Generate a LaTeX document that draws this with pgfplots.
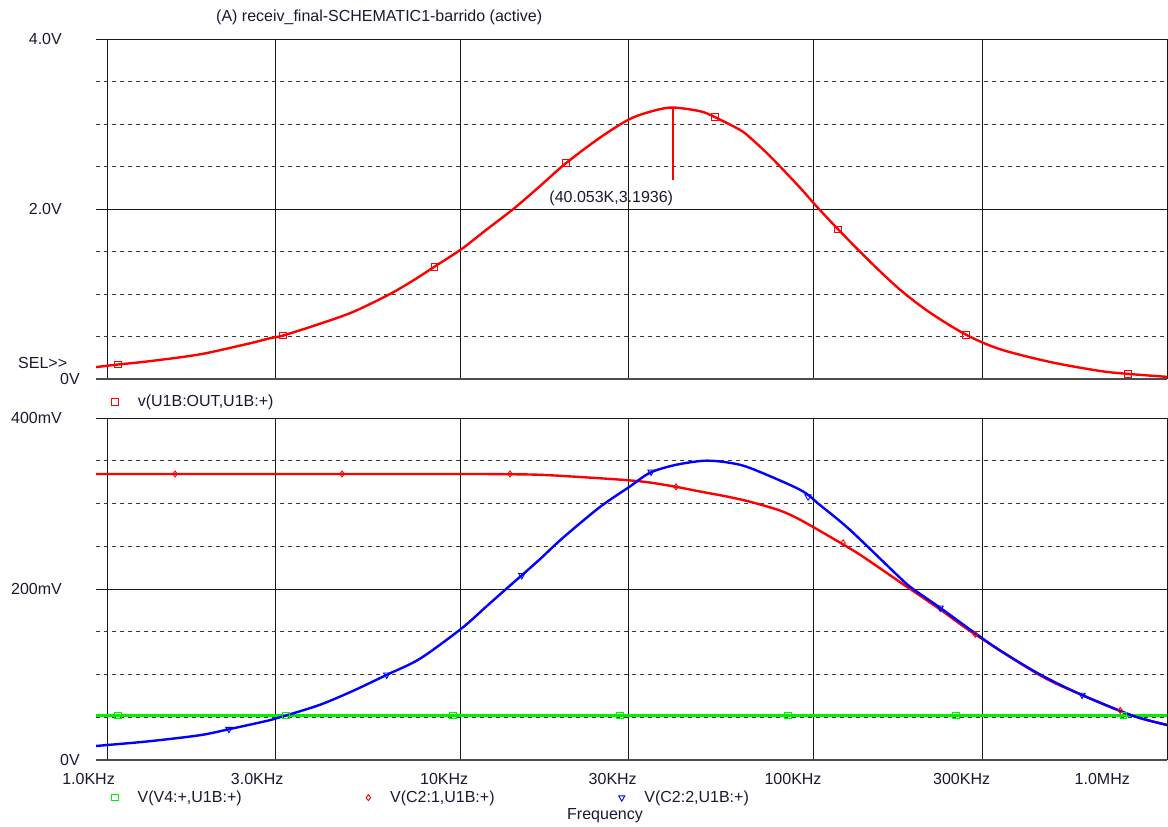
\documentclass[border=0pt]{standalone}
\usepackage{fontspec}
\setmainfont{Liberation Sans}
\usepackage{pgfplots}
\pgfplotsset{compat=1.18}
\pgfplotsset{legend image code/.code={\draw[#1] plot coordinates {(0pt,0pt)};}}
\definecolor{pred}{RGB}{255,0,0}
\definecolor{pblue}{RGB}{0,0,255}
\definecolor{pgreen}{RGB}{0,240,0}
\definecolor{gridc}{RGB}{25,25,25}
\definecolor{txt}{RGB}{25,25,50}
\begin{document}
\fontsize{16}{19}\selectfont
\begin{tikzpicture}
\useasboundingbox (0,0) rectangle (1168pt,827pt);
% ---------------- top plot ----------------
\begin{axis}[at={(96pt,448pt)}, anchor=south west, height=340pt,
  scale only axis, width=1071pt, xmode=log, xmin=931, xmax=1e6,
  axis line style={draw=none},
  major tick length=0pt, minor tick length=0pt,
  xmajorgrids, ymajorgrids, yminorgrids,
  major grid style={gridc, line width=0.9pt},
  minor grid style={gridc!85, line width=0.9pt, dash pattern=on 4pt off 4pt},
  tick label style={font=\fontsize{16}{19}\selectfont, text=txt, inner sep=0pt},
  yticklabel style={anchor=east, xshift=-34pt},
  extra y ticks={0}, extra y tick labels={0V},
  extra y tick style={grid=major, major grid style={line width=2pt, black!70}, yticklabel style={xshift=18pt}},
  legend cell align=left,
  ymin=0, ymax=4, ytick={2,4}, yticklabels={2.0V,4.0V},
  minor ytick={0.5,1,1.5,2.5,3,3.5},
  xtick={1e3,3e3,1e4,3e4,1e5,3e5,1e6}, xticklabels={,,,,,,},
  legend style={at={(axis description cs:0.0145,-0.0676)}, anchor=west, draw=none, fill=none,
    inner sep=0pt, font=\fontsize{16}{19}\selectfont, text=txt,
    /tikz/every odd column/.append style={column sep=19.5pt}, nodes={inner sep=0pt}},
]
\addplot[color=pred, line width=1.8pt, no marks, forget plot] coordinates {(40053,3.1936)(40053,2.34)};
\addplot[color=pred, line width=2.4pt, smooth, no marks, forget plot] coordinates {
(931,0.14)(1074,0.17)(1323,0.21)(1833,0.29)(2540,0.42)(2893,0.48)(3143,0.51)(4008,0.65)(4978,0.79)
(6324,1.00)(7362,1.16)(8443,1.32)(10090,1.53)(11880,1.76)(14130,2.00)(16810,2.27)(19920,2.54)
(24860,2.84)(30220,3.06)(35570,3.16)(40053,3.1936)(47700,3.15)(52600,3.08)(61900,2.93)
(66070,2.84)(75280,2.62)(91520,2.25)(100900,2.05)(117300,1.76)(144400,1.38)(175600,1.05)
(213500,0.78)(270100,0.52)(337000,0.35)(466900,0.20)(646800,0.094)(776200,0.06)(1000000,0.025)};
\addplot[color=pred, only marks, mark=square, mark size=3.3pt, mark options={line width=0.9pt}] coordinates {
(1074,0.17)(3143,0.51)(8443,1.32)(19920,2.54)(52600,3.08)(117300,1.76)(270100,0.52)(776200,0.06)};
\addlegendentry{v(U1B:OUT,U1B:+)}
\node[anchor=east, inner sep=0pt, text=txt, font=\fontsize{16}{19}\selectfont] at (axis cs:40053,2.13) {(40.053K,3.1936)};
\end{axis}
% ---------------- bottom plot ----------------
\begin{axis}[at={(96pt,67pt)}, anchor=south west, height=342pt,
  scale only axis, width=1071pt, xmode=log, xmin=931, xmax=1e6,
  axis line style={draw=none},
  major tick length=0pt, minor tick length=0pt,
  xmajorgrids, ymajorgrids, yminorgrids,
  major grid style={gridc, line width=0.9pt},
  minor grid style={gridc!85, line width=0.9pt, dash pattern=on 4pt off 4pt},
  tick label style={font=\fontsize{16}{19}\selectfont, text=txt, inner sep=0pt},
  yticklabel style={anchor=east, xshift=-34pt},
  extra y ticks={0}, extra y tick labels={0V},
  extra y tick style={grid=major, major grid style={line width=2pt, black!70}, yticklabel style={xshift=18pt}},
  legend cell align=left,
  ymin=0, ymax=400, ytick={200,400}, yticklabels={200mV,400mV},
  minor ytick={50,100,150,250,300,350},
  xtick={1e3,3e3,1e4,3e4,1e5,3e5}, xticklabels={1.0KHz,3.0KHz,10KHz,30KHz,100KHz,300KHz},
  xticklabel style={anchor=base east, xshift=8pt, yshift=-25pt},
  extra x ticks={1e6}, extra x tick labels={1.0MHz},
  extra x tick style={grid=major, xticklabel style={xshift=-45pt}},
  legend columns=3,
  legend style={at={(axis description cs:0.0145,-0.110)}, anchor=west, draw=none, fill=none,
    inner sep=0pt, font=\fontsize{16}{19}\selectfont, text=txt,
    /tikz/every odd column/.append style={column sep=19.5pt},
    nodes={inner sep=0pt, text width=228.5pt}},
]
\addplot[color=pgreen, line width=2.4pt, no marks, forget plot] coordinates {(931,52)(1000000,52)};
\addplot[color=pred, line width=2.4pt, smooth, no marks, forget plot] coordinates {
(931,334.5)(3000,334.5)(10000,334.5)(12950,334.3)(17000,333.5)(24860,329.5)(30220,327)
(34430,324.5)(40780,319.5)(47700,314)(57000,308)(66070,302)(80000,292)(91520,281)(111300,261)(135300,240)
(175600,208)(186000,201)(228000,176)(282700,148.5)(437300,99)(567500,77)(796800,52)(1000000,41)};
\addplot[color=pblue, line width=2.4pt, smooth, no marks, forget plot] coordinates {
(931,16.4)(1000,17.5)(1323,22)(1833,29)(2214,36)(2893,46.6)(3190,51.7)(4008,64.6)(4978,81)(6190,99.6)
(7690,118.5)(10090,154)(11880,180)(13820,204)(14920,216)(16810,235)(19530,260)(24860,296)(30220,320)(34430,336)
(40520,345)(48950,350)(57000,348)(66070,341.5)(91520,316)(104300,298)(126800,269)
(175600,213)(191200,200)(228000,178)(282700,150)(337000,128)(437300,100)(567500,77)
(796800,52)(1000000,41)};
\addplot[color=pgreen, only marks, mark=square, mark size=3.2pt, mark options={line width=0.9pt}] coordinates {
(1074,52)(3211,52)(9535,52)(28310,52)(84640,52)(253000,52)(751400,52)};
\addlegendentry{V(V4:+,U1B:+)}
\addplot[color=pred, only marks, mark=diamond, mark size=3pt, mark options={line width=0.9pt}] coordinates {
(1558,334.5)(4627,334.5)(13820,334.5)(40780,319.5)(121100,254)(286400,147)(736900,58)};
\addlegendentry{V(C2:1,U1B:+)}
\addplot[color=pblue, only marks, mark=triangle, mark size=3.6pt, mark options={line width=0.9pt, rotate=180}] coordinates {
(2214,36)(6190,99.6)(14920,216)(34650,337)(96400,308)(228000,178)(575000,76)};
\addlegendentry{V(C2:2,U1B:+)}
\end{axis}
% ---------------- texts ----------------
\node[anchor=west, inner sep=0pt, text=txt] at (216pt,810pt) {(A) receiv\_final-SCHEMATIC1-barrido (active)};
\node[anchor=west, inner sep=0pt, text=txt] at (18pt,464pt) {SEL>\kern0pt>\kern0pt};
\node[anchor=base, inner sep=0pt, text=txt] at (605pt,7pt) {Frequency};
\end{tikzpicture}
\end{document}
